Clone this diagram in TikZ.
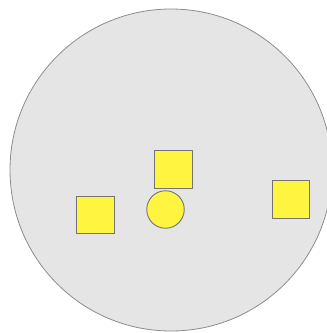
\documentclass[tikz,border=0pt]{standalone}
\begin{document}
\begin{tikzpicture}[x=1pt,y=-1pt,
  sq/.style={draw=black!55,fill=yellow!75!white,line width=0.9pt,minimum width=37.5pt,minimum height=37.5pt,inner sep=0pt,outer sep=0pt,rectangle},
  rd/.style={draw=black!55,fill=yellow!75!white,line width=0.9pt,minimum size=37.5pt,inner sep=0pt,outer sep=0pt,circle}]
\useasboundingbox (0,0) rectangle (327,333);
\clip (0,0) rectangle (327,333);
\node[circle,draw=black!45,fill=black!10,line width=0.8pt,minimum size=322pt,inner sep=0pt] (big) at (171,170) {};
\node[sq] (top) at (173.3,169.6) {};
\node[sq] (left) at (95.5,214.7) {};
\node[sq] (right) at (290.8,199.2) {};
\node[rd] (mid) at (165.5,209.5) {};
\end{tikzpicture}
\end{document}
